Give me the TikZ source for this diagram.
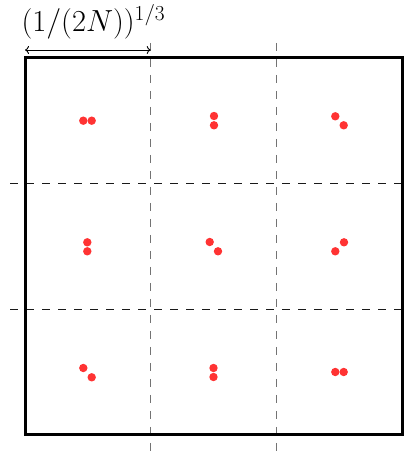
\RequirePackage{fix-cm}
\documentclass[tikz,border=0pt]{standalone}
\usetikzlibrary{arrows.meta}
\begin{document}
\begin{tikzpicture}[x=1pt,y=1pt,
  box/.style={line width=3pt},
  vdash/.style={draw=black!55,line width=1.1pt,dash pattern=on 8pt off 8pt},
  hdash/.style={draw=black!90,line width=1pt,dash pattern=on 8pt off 8pt},
  dot/.style={circle,inner sep=0pt,minimum size=8.4pt},
  dim/.style={line width=0.9pt,{To[length=4pt,width=8pt]}-{To[length=4pt,width=8pt]}}]
\definecolor{dotred}{RGB}{255,51,51}
\tikzset{dot/.append style={fill=dotred}}
\useasboundingbox (0,0) rectangle (407,456);
% dashed grid
\coordinate (v1t) at (150.7,413); \coordinate (v1b) at (150.7,4);
\coordinate (v2t) at (276.3,413); \coordinate (v2b) at (276.3,4);
\coordinate (h1l) at (10,272.3); \coordinate (h1r) at (402,272.3);
\coordinate (h2l) at (10,146.7); \coordinate (h2r) at (402,146.7);
\draw[vdash] (v1t) -- (v1b);
\draw[vdash] (v2t) -- (v2b);
\draw[hdash] (h1l) -- (h1r);
\draw[hdash] (h2l) -- (h2r);
% box
\draw[box] (25,21) rectangle (402,398);
% dimension
\coordinate (da) at (25,406);
\coordinate (db) at (150.7,406);
\draw[dim] (da) -- (db);
\node[anchor=base west,inner sep=0pt] (lab) at (21.3,424.3) {\fontsize{30.5}{36}\selectfont $(1/(2N))^{1/3}$};
% dots
\node[dot] (a1) at (83.3,335.3) {}; \node[dot] (a2) at (91.7,335.3) {};
\node[dot] (b1) at (214,340) {}; \node[dot] (b2) at (214,330.7) {};
\node[dot] (c1) at (335.3,339.7) {}; \node[dot] (c2) at (343.7,330.7) {};
\node[dot] (d1) at (87.3,213.7) {}; \node[dot] (d2) at (87.3,204.7) {};
\node[dot] (e1) at (209.7,214) {}; \node[dot] (e2) at (218,204.7) {};
\node[dot] (f1) at (344,213.7) {}; \node[dot] (f2) at (335.3,204.7) {};
\node[dot] (g1) at (83.3,88) {}; \node[dot] (g2) at (91.7,78.7) {};
\node[dot] (h1) at (213.5,88) {}; \node[dot] (h2) at (213.5,79) {};
\node[dot] (i1) at (335.3,84) {}; \node[dot] (i2) at (343.7,84) {};
\end{tikzpicture}
\end{document}
